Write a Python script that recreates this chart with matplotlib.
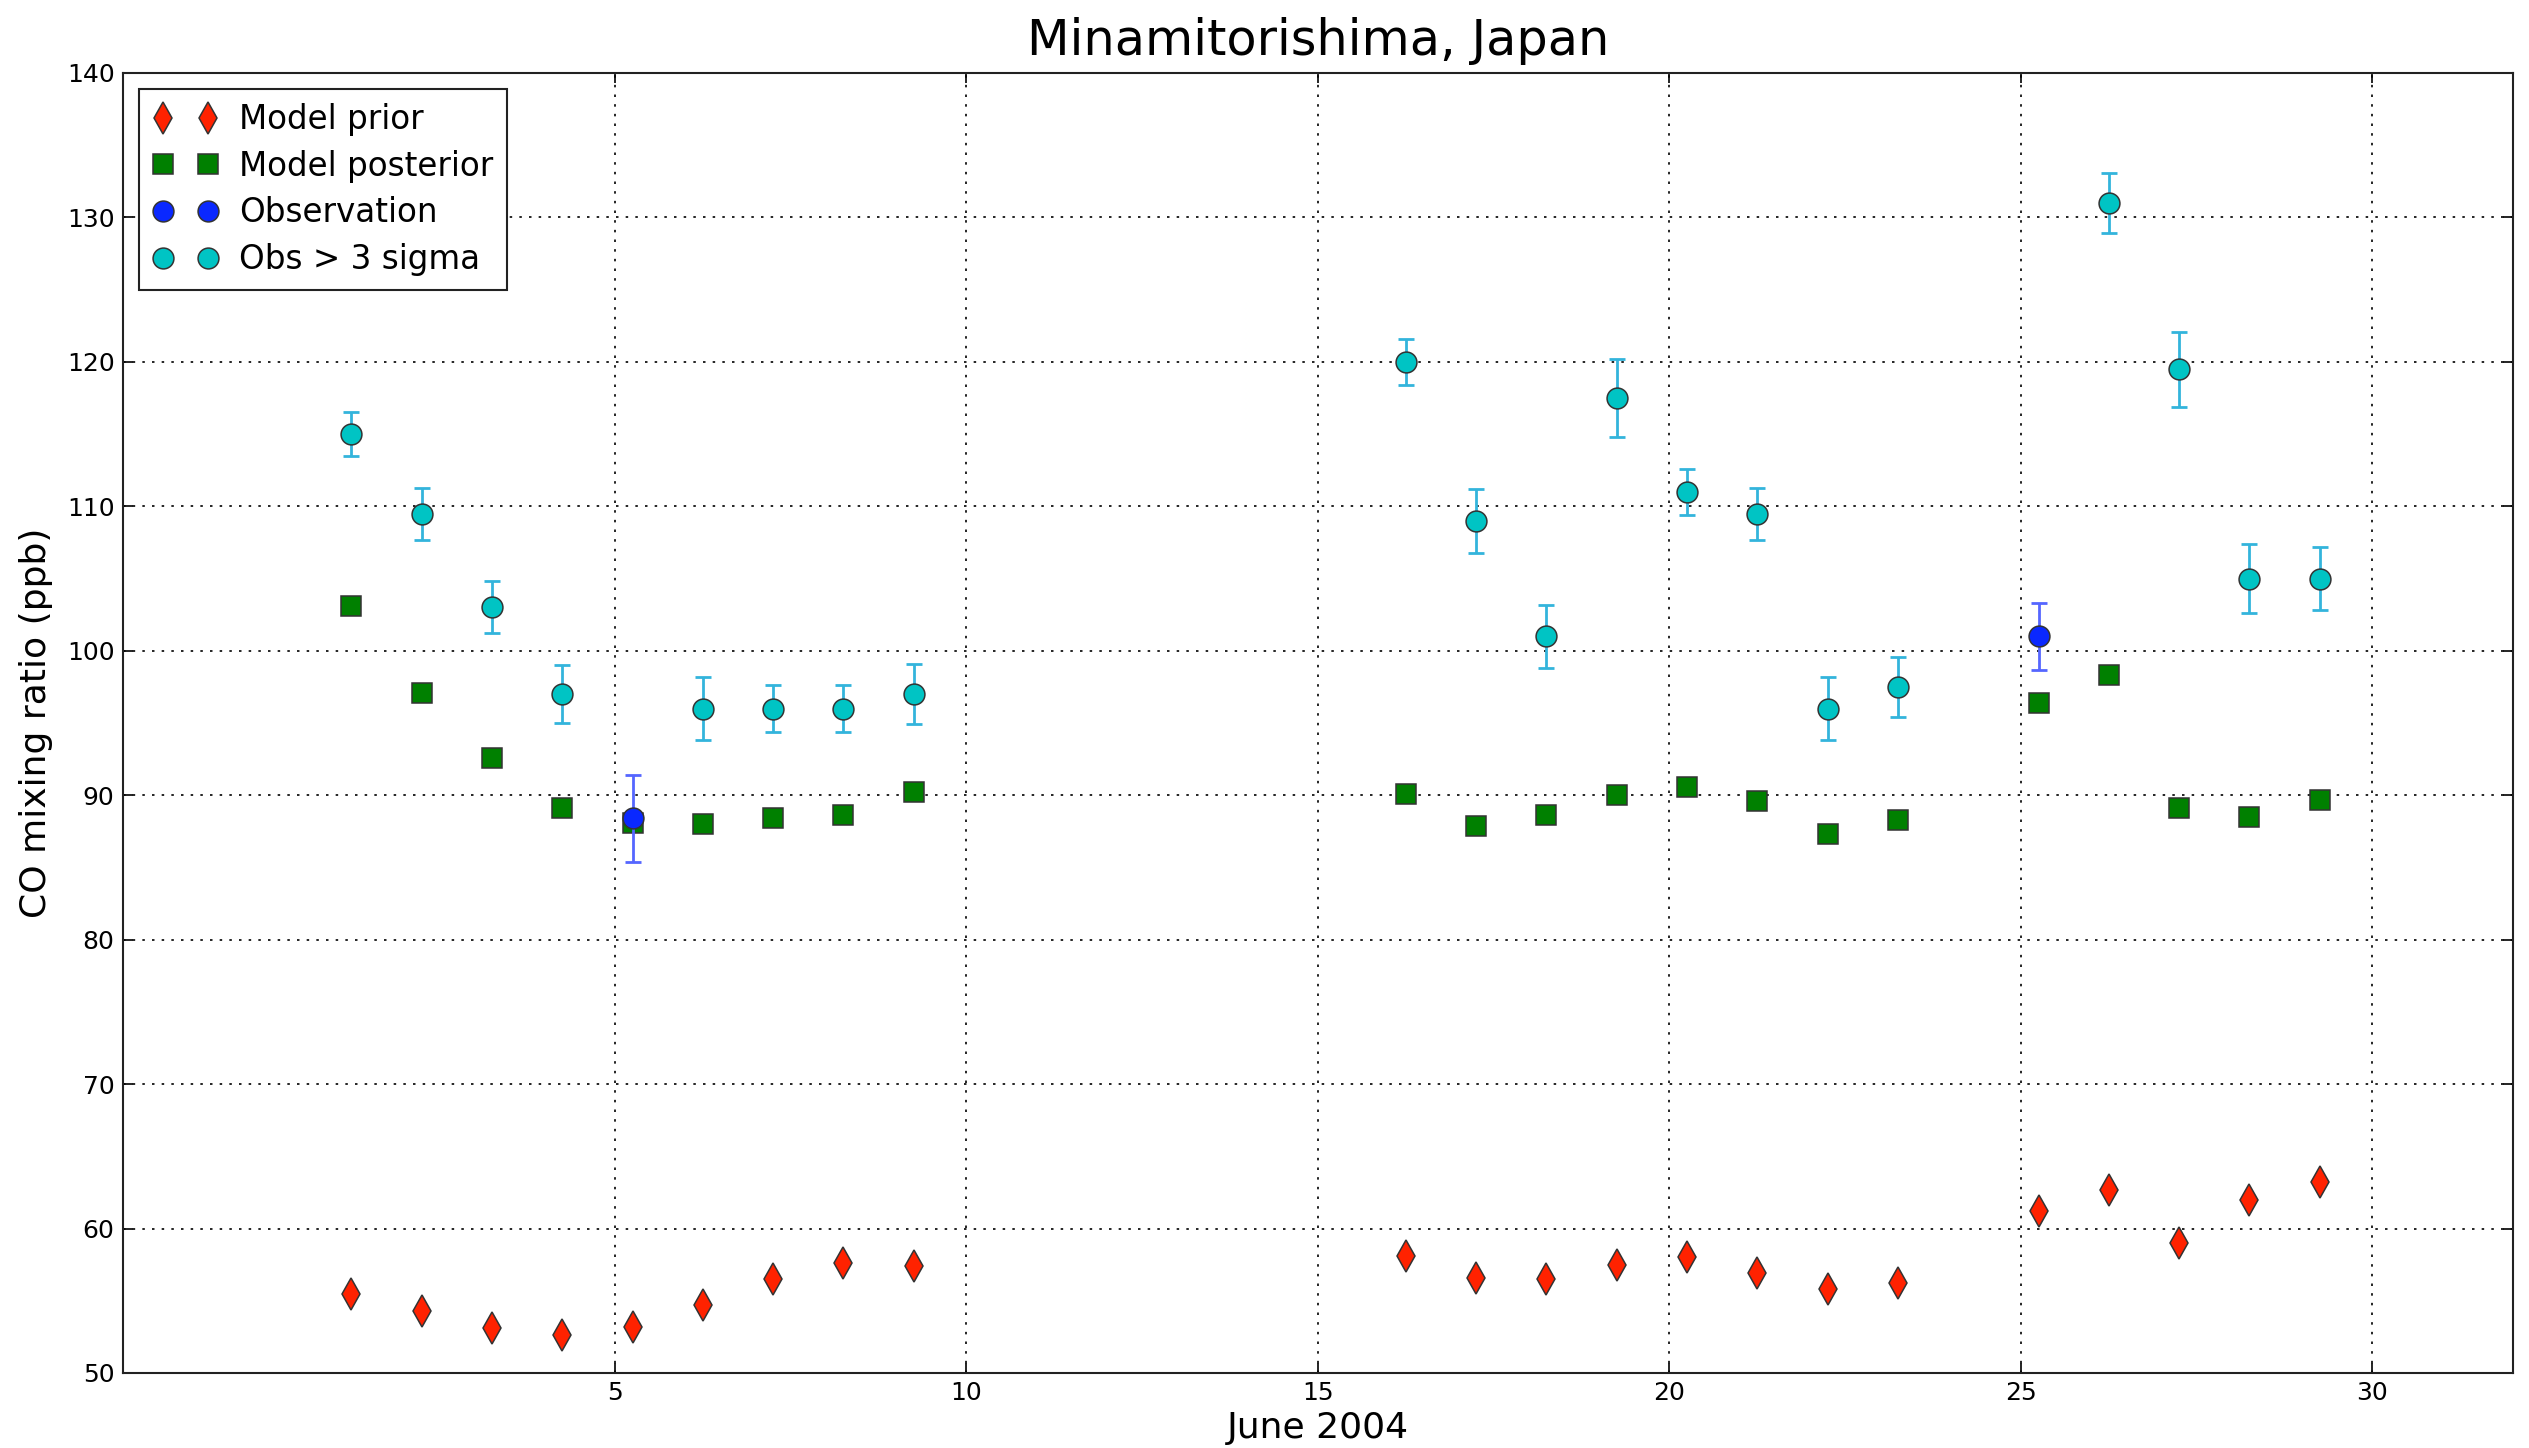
import matplotlib
matplotlib.use("Agg")
import matplotlib.pyplot as plt

# Days of June 2004 (sample times) for each series
days_prior = [1.25, 2.25, 3.25, 4.25, 5.25, 6.25, 7.25, 8.25, 9.25,
              16.25, 17.25, 18.25, 19.25, 20.25, 21.25, 22.25, 23.25,
              25.25, 26.25, 27.25, 28.25, 29.25]
model_prior = [55.5, 54.3, 53.1, 52.6, 53.2, 54.7, 56.5, 57.6, 57.4,
               58.1, 56.6, 56.5, 57.5, 58.0, 56.9, 55.8, 56.2,
               61.2, 62.7, 59.0, 62.0, 63.2]
model_posterior = [103.1, 97.1, 92.6, 89.1, 88.1, 88.0, 88.4, 88.6, 90.2,
                   90.1, 87.9, 88.6, 90.0, 90.6, 89.6, 87.3, 88.3,
                   96.4, 98.3, 89.1, 88.5, 89.7]

# Observations within 3 sigma of the posterior
days_obs = [5.25, 25.25]
obs = [88.4, 101.0]
obs_err = [3.0, 2.3]

# Observations more than 3 sigma away
days_out = [1.25, 2.25, 3.25, 4.25, 6.25, 7.25, 8.25, 9.25,
            16.25, 17.25, 18.25, 19.25, 20.25, 21.25, 22.25, 23.25,
            26.25, 27.25, 28.25, 29.25]
obs_out = [115.0, 109.5, 103.0, 97.0, 96.0, 96.0, 96.0, 97.0,
           120.0, 109.0, 101.0, 117.5, 111.0, 109.5, 96.0, 97.5,
           131.0, 119.5, 105.0, 105.0]
obs_out_err = [1.5, 1.8, 1.8, 2.0, 2.2, 1.6, 1.6, 2.1,
               1.6, 2.2, 2.2, 2.7, 1.6, 1.8, 2.2, 2.1,
               2.1, 2.6, 2.4, 2.2]

x_ticks = [5, 10, 15, 20, 25, 30]
y_ticks = [50, 60, 70, 80, 90, 100, 110, 120, 130, 140]

plt.rcParams['font.family'] = ['DejaVu Sans']

fig = plt.figure(figsize=(25.29, 14.48), dpi=100)
ax = fig.add_axes([0.0486, 0.0518, 0.9451, 0.8978])

edge = '#333333'
mew = 1.1

ax.plot(days_prior, model_prior, linestyle='none', marker='d', ms=16,
        mfc='#ff2200', mec=edge, mew=mew, label='Model prior', zorder=3)
ax.plot(days_prior, model_posterior, linestyle='none', marker='s', ms=14,
        mfc='#008000', mec=edge, mew=mew, label='Model posterior', zorder=3)

ax.errorbar(days_obs, obs, yerr=obs_err, fmt='none', ecolor='#5566ff',
            elinewidth=2.0, capsize=6, capthick=2.0, zorder=4)
ax.plot(days_obs, obs, linestyle='none', marker='o', ms=15,
        mfc='#0a28ff', mec=edge, mew=mew, label='Observation', zorder=5)

ax.errorbar(days_out, obs_out, yerr=obs_out_err, fmt='none', ecolor='#33b4dc',
            elinewidth=2.0, capsize=6, capthick=2.0, zorder=4)
ax.plot(days_out, obs_out, linestyle='none', marker='o', ms=15,
        mfc='#00c4c4', mec=edge, mew=mew, label='Obs > 3 sigma', zorder=5)

ax.set_xlim(-2, 32)
ax.set_ylim(50, 140)
ax.set_xticks(x_ticks)
ax.set_yticks(y_ticks)
ax.tick_params(direction='in', top=True, right=True, length=7, width=1.2,
               labelsize=18, pad=6)

ax.grid(True, color='black', linestyle=(0, (1.5, 4.3)), linewidth=1.2)
for sp in ax.spines.values():
    sp.set_linewidth(1.5)
    sp.set_color('#222222')

ax.set_title('Minamitorishima, Japan', fontsize=35.6, pad=13)
ax.set_xlabel('June 2004', fontsize=26, labelpad=4)
ax.set_ylabel('CO mixing ratio (ppb)', fontsize=26, labelpad=10)

leg = ax.legend(loc='upper left', numpoints=2, fontsize=23.5, fancybox=False,
                edgecolor='#222222', framealpha=1.0, borderaxespad=0.5,
                labelspacing=0.42, handletextpad=0.65, handlelength=2.0,
                borderpad=0.42)
leg.get_frame().set_linewidth(1.5)

fig.savefig('out.png', dpi=100)
